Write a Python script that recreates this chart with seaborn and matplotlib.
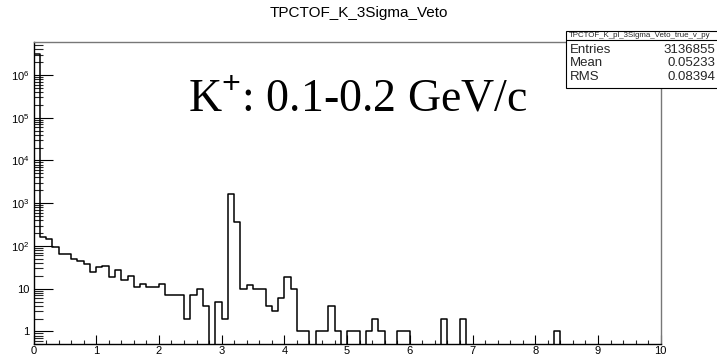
import numpy as np
import pandas as pd
import matplotlib
matplotlib.use("Agg")
import matplotlib.pyplot as plt
from matplotlib.patches import Rectangle
from matplotlib.lines import Line2D
from matplotlib.ticker import FixedLocator, FixedFormatter, LogLocator, NullFormatter
import seaborn as sns

# ---- histogram contents (100 bins of width 0.1 between 0 and 10) ----
bin_low = 0.0
bin_high = 10.0
bin_width = 0.1
counts = [
    3133500, 163, 148, 93, 65, 65, 50, 44, 38, 25,      # 0.0 - 1.0
    33, 34, 19, 27, 16, 20, 11, 13, 11, 11,              # 1.0 - 2.0
    13, 7, 7, 7, 2, 7, 10, 4, 0, 5,                      # 2.0 - 3.0
    2, 1670, 356, 10, 12, 10, 10, 4, 3, 6,               # 3.0 - 4.0
    19, 10, 1, 1, 0, 1, 1, 4, 1, 0,                      # 4.0 - 5.0
    1, 1, 0, 1, 2, 1, 0, 0, 1, 1,                        # 5.0 - 6.0
    0, 0, 0, 0, 0, 2, 0, 0, 2, 0,                        # 6.0 - 7.0
    0, 0, 0, 0, 0, 0, 0, 0, 0, 0,                        # 7.0 - 8.0
    0, 0, 0, 1, 0, 0, 0, 0, 0, 0,                        # 8.0 - 9.0
    0, 0, 0, 0, 0, 0, 0, 0, 0, 0,                        # 9.0 - 10.0
]

# ---- axis decorations ----
x_ticks = [0, 1, 2, 3, 4, 5, 6, 7, 8, 9, 10]
x_tick_labels = ["0", "1", "2", "3", "4", "5", "6", "7", "8", "9", "10"]
y_ticks = [1, 10, 100, 1e3, 1e4, 1e5, 1e6]
y_tick_labels = ["1", "10", "$10^{2}$", "$10^{3}$", "$10^{4}$", "$10^{5}$", "$10^{6}$"]
y_min, y_max = 0.5, 5.83e6

title = "TPCTOF_K_3Sigma_Veto"
label_text = "K$^{+}$: 0.1-0.2 GeV/c"
stats_title = "TPCTOF_K_pl_3Sigma_Veto_true_v_py"
stats_names = ["Entries", "Mean", "RMS"]
stats_values = ["3136855", "0.05233", "0.08394"]

# ---- style ----
sns.set_theme(style="ticks")
plt.rcParams["font.family"] = ["Liberation Sans", "DejaVu Sans"]
plt.rcParams["mathtext.fontset"] = "custom"
plt.rcParams["mathtext.rm"] = "Liberation Sans"
plt.rcParams["mathtext.it"] = "Liberation Sans:italic"
plt.rcParams["mathtext.bf"] = "Liberation Sans:bold"

fig = plt.figure(figsize=(7.17, 3.59), dpi=100)
fig.patch.set_facecolor("white")
W, H = 717.0, 359.0
ax_left, ax_right = 33.5, 660.7
ax_top, ax_bottom = 42.3, 344.3
ax = fig.add_axes([ax_left / W, 1 - ax_bottom / H,
                   (ax_right - ax_left) / W, (ax_bottom - ax_top) / H])
ax.set_facecolor("white")

n_bins = len(counts)
centers = bin_low + bin_width * (np.arange(n_bins) + 0.5)
hist_df = pd.DataFrame({"x": centers, "n": counts})

sns.histplot(data=hist_df, x="x", weights="n", binwidth=bin_width,
             binrange=(bin_low, bin_high), element="step",
             fill=False, color="black", linewidth=1.1, ax=ax)

ax.set_yscale("log")
ax.set_xlim(bin_low, bin_high)
ax.set_ylim(y_min, y_max)
ax.set_xlabel("")
ax.set_ylabel("")

# x axis: major every unit, minor every 0.2, ticks pointing inward
ax.xaxis.set_major_locator(FixedLocator(x_ticks))
ax.xaxis.set_major_formatter(FixedFormatter(x_tick_labels))
ax.xaxis.set_minor_locator(FixedLocator(np.arange(0, 10.01, 0.2)))
ax.tick_params(axis="x", which="major", direction="in", length=6.5, width=0.8,
               pad=1.5, labelsize=8, colors="black", top=False)
ax.tick_params(axis="x", which="minor", direction="in", length=3.2, width=0.8,
               top=False)

# y axis: log decades with 2..9 minor ticks
ax.yaxis.set_major_locator(FixedLocator(y_ticks))
ax.yaxis.set_major_formatter(FixedFormatter(y_tick_labels))
ax.yaxis.set_minor_locator(LogLocator(base=10, subs=np.arange(2, 10), numticks=20))
ax.yaxis.set_minor_formatter(NullFormatter())
ax.tick_params(axis="y", which="major", direction="in", length=13.5, width=0.8,
               pad=3, labelsize=8, colors="black", right=False)
ax.tick_params(axis="y", which="minor", direction="in", length=6.8, width=0.8,
               right=False)

for side in ["left", "bottom"]:
    ax.spines[side].set_color("black")
    ax.spines[side].set_linewidth(1.0)
for side in ["top", "right"]:
    ax.spines[side].set_visible(True)
    ax.spines[side].set_color("#777777")
    ax.spines[side].set_linewidth(1.0)

# title and kinematic label
fig.text(0.5, 1 - 13 / H, title, ha="center", va="center", fontsize=11,
         color="black")
fig.text(188 / W, 1 - 112 / H, label_text, ha="left", va="baseline",
         fontsize=33, family=["Liberation Serif", "DejaVu Serif"], color="black")

# statistics box
box_x0, box_y_top, box_y_bot, box_div = 566 / W, 1 - 31 / H, 1 - 88 / H, 1 - 40 / H
fig.add_artist(Rectangle((box_x0, box_y_bot), 1.05 - box_x0, box_y_top - box_y_bot,
                         transform=fig.transFigure, facecolor="white",
                         edgecolor="black", linewidth=0.8, zorder=10,
                         clip_on=False))
fig.add_artist(Line2D([box_x0, 1.05], [box_div, box_div], transform=fig.transFigure,
                      color="black", linewidth=0.8, zorder=11))
fig.text(568.5 / W, 1 - 35.5 / H, stats_title, ha="left", va="center", fontsize=5.7,
         zorder=12)
for i, (name, val) in enumerate(zip(stats_names, stats_values)):
    y = 1 - (50 + 13.5 * i) / H
    fig.text(570 / W, y, name, ha="left", va="center", fontsize=9.5, zorder=12)
    fig.text(715 / W, y, val, ha="right", va="center", fontsize=9.5, zorder=12)

fig.savefig("out.png", dpi=100, facecolor="white")
